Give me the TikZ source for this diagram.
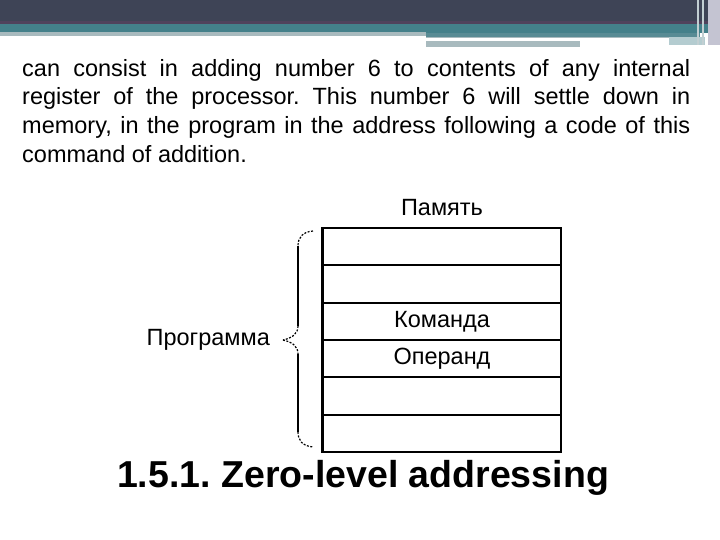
\documentclass[tikz,border=0pt]{standalone}
\usepackage{fontspec}
\setmainfont{Liberation Sans}
\usepackage{tikz}
\usetikzlibrary{positioning}
\frenchspacing

\definecolor{bardark}{RGB}{62,68,86}
\definecolor{barline}{RGB}{80,66,92}
\definecolor{barteal}{RGB}{68,128,138}
\definecolor{barlight}{RGB}{168,186,190}
\definecolor{barside}{RGB}{196,196,210}

\tikzset{
  cell/.style={draw, line width=1.8pt, minimum width=238pt, minimum height=37.33pt,
    inner sep=0pt, font=\fontsize{23.5}{27}\selectfont},
  label/.style={inner sep=0pt, font=\fontsize{23.5}{27}\selectfont},
  bracecurve/.style={line width=1.2pt, dash pattern=on 2pt off 1.5pt},
}

\begin{document}
\begin{tikzpicture}[x=1pt, y=-1pt]
  \useasboundingbox[fill=white] (0,0) rectangle (720,540);

  % slide header bars
  \fill[bardark] (0,0) rectangle (720,21);
  \fill[barline] (0,21) rectangle (720,24);
  \fill[barteal] (0,24) rectangle (720,33);
  \fill[barlight] (0,32) rectangle (426,36);
  \fill[barteal!80!barlight] (426,33) rectangle (700,37);
  \fill[barlight] (426,37) rectangle (669,38.5);
  \fill[barlight] (426,41) rectangle (580,47);
  \fill[barteal!40!white] (669,37) rectangle (705,45);
  \fill[barside] (708,0) rectangle (720,45);
  \fill[barlight!70!white] (697,0) rectangle (699,45);
  \fill[barlight!70!white] (702,0) rectangle (704,45);

  % text above the picture
  \node[anchor=north west, inner sep=0pt, text width=668pt, align=justify,
        font=\fontsize{23.5}{28.6}\selectfont] (body) at (22,59)
    {can consist in adding number 6 to contents of any internal\linebreak
     register of the processor. This number 6 will settle down in\linebreak
     memory, in the program in the address following a code of this\linebreak
     command of addition.};

  % memory cells
  \foreach \i/\txt in {1/,2/,3/Команда,4/Операнд,5/,6/} {
    \node[cell] (cell\i) at (442, 209.33+37.33*\i) {\txt};
  }
  \draw[line width=2.6pt] (cell1.north west) -- (cell6.south west);

  \node[label, above=11pt of cell1] (mem) {Память};

  % brace for the program
  \coordinate (bt) at (313,231);
  \coordinate (bb) at (313,447);
  \coordinate (tip) at (283,340);
  \draw[bracecurve] (bt) .. controls (302,232) and (298,238) .. (298,246);
  \draw[line width=1.4pt] (298,246) -- (298,326);
  \draw[bracecurve] (298,326) .. controls (298,334) and (292,338) .. (tip);
  \draw[bracecurve] (tip) .. controls (292,342) and (298,346) .. (298,354);
  \draw[line width=1.4pt] (298,354) -- (298,432);
  \draw[bracecurve] (298,432) .. controls (298,440) and (302,446) .. (bb);

  \node[label, left=13pt of tip] (prog) {Программа};

  % slide title
  \node[inner sep=0pt, font=\fontsize{37.5}{42}\bfseries\selectfont, anchor=base] (title) at (363,487)
    {1.5.1. Zero-level addressing};
\end{tikzpicture}
\end{document}
